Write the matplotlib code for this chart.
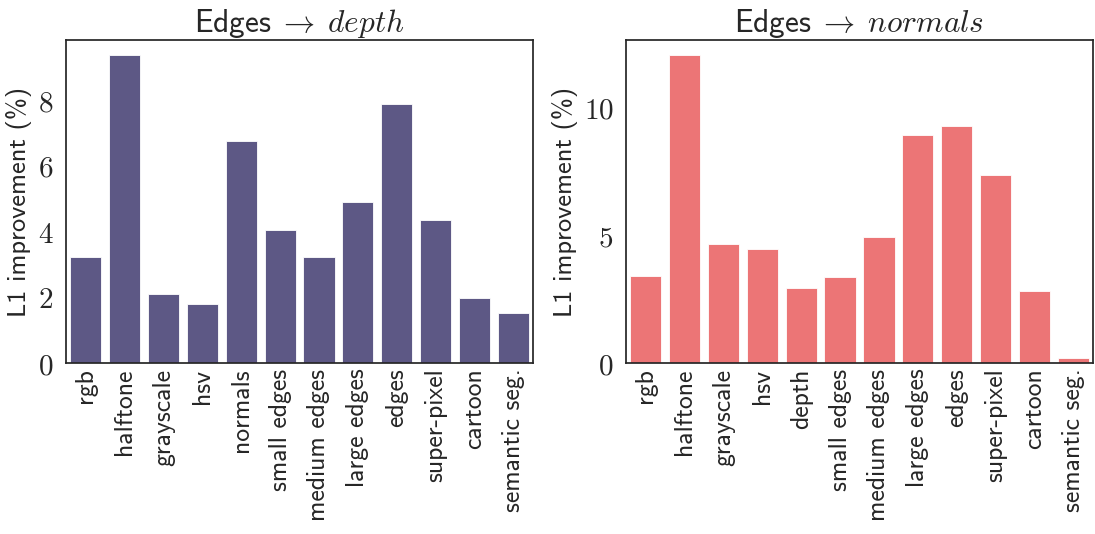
import matplotlib
matplotlib.use("Agg")
import matplotlib.pyplot as plt
from matplotlib.ticker import FuncFormatter, MultipleLocator

plt.rcParams["mathtext.fontset"] = "cm"
plt.rcParams["axes.unicode_minus"] = False
plt.rcParams["text.color"] = "#262626"
plt.rcParams["xtick.color"] = "#262626"
plt.rcParams["ytick.color"] = "#262626"
plt.rcParams["axes.labelcolor"] = "#262626"

# Source representations and L1 improvement for each target task
depth_sources = ["rgb", "halftone", "grayscale", "hsv", "normals", "small edges",
                 "medium edges", "large edges", "edges", "super-pixel", "cartoon",
                 "semantic seg."]
depth_values = [3.24, 9.36, 2.09, 1.80, 6.76, 4.06, 3.22, 4.89, 7.88, 4.34, 1.97, 1.51]

normals_sources = ["rgb", "halftone", "grayscale", "hsv", "depth", "small edges",
                   "medium edges", "large edges", "edges", "super-pixel", "cartoon",
                   "semantic seg."]
normals_values = [3.39, 12.05, 4.66, 4.46, 2.94, 3.35, 4.94, 8.95, 9.27, 7.35, 2.82, 0.20]

depth_color = "#5d5885"
normals_color = "#ec7576"

SANS = "cmss10"

fig = plt.figure(figsize=(10.95, 5.34), dpi=100)
ax1 = fig.add_axes([0.0603, 0.3202, 0.4265, 0.6049])
ax2 = fig.add_axes([0.5717, 0.3202, 0.4265, 0.6049])


def draw(ax, labels, values, color, target, step):
    x = list(range(len(labels)))
    ax.bar(x, values, width=0.8, color=color, edgecolor="white", linewidth=0.6)
    ax.set_xlim(-0.5, len(labels) - 0.5)
    ax.set_ylim(0, max(values) * 1.05)
    ax.set_xticks(x)
    ax.set_xticklabels(labels, rotation=90, fontfamily=SANS, fontsize=18.5)
    ax.yaxis.set_major_locator(MultipleLocator(step))
    ax.yaxis.set_major_formatter(FuncFormatter(lambda v, p: f"${int(round(v))}$"))
    for lab in ax.get_yticklabels():
        lab.set_fontsize(21)
    ax.tick_params(axis="y", length=0, pad=9)
    ax.tick_params(axis="x", length=0, pad=4)
    ax.set_ylabel("L1 improvement (%)", fontfamily=SANS, fontsize=19, labelpad=4)
    ax.set_title(r"Edges$\;\rightarrow\;" + target + "$", fontfamily=SANS,
                 fontsize=22.5, pad=5)
    for s in ax.spines.values():
        s.set_color("#262626")
        s.set_linewidth(1.25)


draw(ax1, depth_sources, depth_values, depth_color, "depth", 2)
draw(ax2, normals_sources, normals_values, normals_color, "normals", 5)

fig.savefig("out.png", dpi=100)
